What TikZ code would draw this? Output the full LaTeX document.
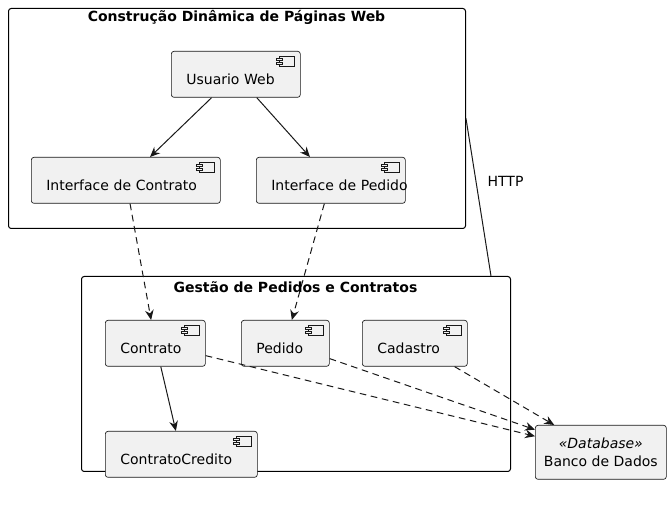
\documentclass[tikz,border=0pt]{standalone}
\usepackage{fontspec}
\setmainfont{DejaVu Sans}
\usetikzlibrary{arrows.meta, positioning}

\definecolor{compfill}{HTML}{F1F1F1}
\definecolor{linecol}{HTML}{181818}

\tikzset{
  frame/.style={draw=black, line width=0.75pt, rounded corners=2pt, anchor=north west, inner sep=0pt},
  title/.style={font=\fontsize{10.5}{12.6}\selectfont\bfseries},
  comp/.style={draw=linecol, fill=compfill, line width=0.5pt, rounded corners=2pt, anchor=north west,
    inner xsep=11.25pt, inner ysep=0pt, text height=24.75pt, text depth=9.75pt, align=left,
    font=\fontsize{10.5}{12.6}\selectfont},
  db/.style={draw=linecol, fill=compfill, line width=0.5pt, rounded corners=2pt, anchor=north west,
    inner sep=0pt, minimum width=98.25pt, minimum height=40.5pt, align=center,
    font=\fontsize{10.5}{13.5}\selectfont},
  icon/.style={draw=linecol, fill=compfill, line width=0.4pt},
  link/.style={draw=linecol, line width=0.75pt, -{Stealth[length=7.5pt, width=6.5pt, inset=2.5pt]}},
  dep/.style={link, dash pattern=on 5pt off 3.5pt},
  plain/.style={draw=linecol, line width=0.75pt}
}

\begin{document}
\begin{tikzpicture}[x=0.75pt, y=-0.75pt]
  \useasboundingbox (0,0) rectangle (672,505);

  % frames
  \node[frame, minimum width=342.75pt, minimum height=165pt] (web) at (8,8) {};
  \node[title] (webTitle) at (236.5,17) {Construção Dinâmica de Páginas Web};
  \node[frame, minimum width=321.75pt, minimum height=146.25pt] (gestao) at (81,276) {};
  \node[title] (gestaoTitle) at (295.5,287) {Gestão de Pedidos e Contratos};

  % components
  \node[comp, text width=74.25pt] (usuario) at (171,51) {Usuario Web};
  \node[comp, text width=119.25pt] (ifContrato) at (31,157) {Interface de Contrato};
  \node[comp, text width=89.25pt] (ifPedido) at (256,157) {\mbox{Interface de Pedido}};
  \node[comp, text width=52.5pt] (contrato) at (105,320) {Contrato};
  \node[comp, text width=43.5pt] (pedido) at (241,320) {Pedido};
  \node[comp, text width=56.25pt] (cadastro) at (362,320) {Cadastro};
  \node[comp, text width=91.5pt] (credito) at (105,431) {ContratoCredito};
  \node[db] (banco) at (535,425) {{\itshape «Database»}\\Banco de Dados};

  % component icons
  \foreach \n in {usuario, ifContrato, ifPedido, contrato, pedido, cadastro, credito} {
    \begin{scope}[shift={(\n.north east)}]
      \draw[icon] (-21,5) rectangle (-6,15);
      \draw[icon] (-24,7) rectangle (-18,9);
      \draw[icon] (-24,11) rectangle (-18,13);
    \end{scope}
  }

  % connectors
  \draw[link] (usuario) -- (ifContrato);
  \draw[link] (usuario) -- (ifPedido);
  \draw[dep] (ifContrato) -- (contrato);
  \draw[dep] (ifPedido) -- (pedido);
  \draw[link] (contrato) -- (credito);
  \draw[dep] (contrato) -- (banco);
  \draw[dep] (pedido) -- (banco);
  \draw[dep] (cadastro) -- (banco);
  \draw[plain] (web.east) -- ([xshift=-15pt]gestao.north east)
    node[pos=0.4, right=5pt, font=\fontsize{10.5}{12.6}\selectfont] (http) {HTTP};
\end{tikzpicture}
\end{document}
